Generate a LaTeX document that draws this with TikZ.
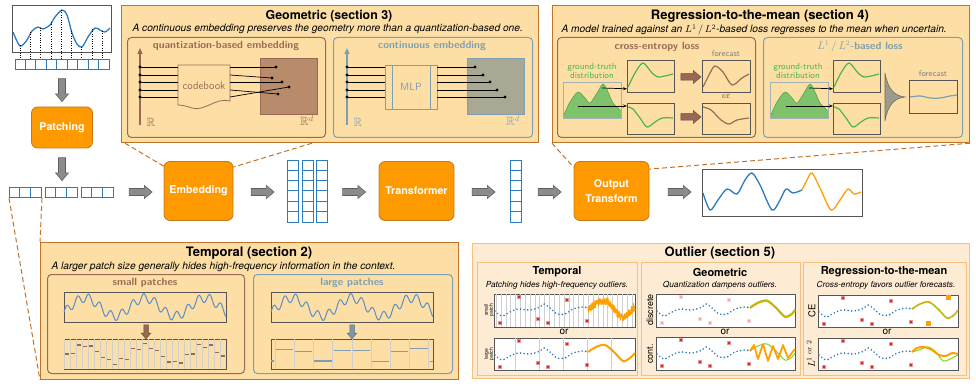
\documentclass[tikz,border=0pt]{standalone}
\usepackage{amsmath}
\usepackage{amssymb}
\usepackage{fontspec}
\usepackage{tikz}
\usetikzlibrary{positioning, arrows.meta, shapes, calc, plotmarks}
\usepackage{xcolor}

\newfontfamily\hel{TeX Gyre Heros}
\newcommand{\fsz}[1]{\fontsize{#1}{#1}\selectfont}

\definecolor{stagefill}{HTML}{FF9900}
\definecolor{stagedraw}{HTML}{C47A18}
\definecolor{sectfill}{HTML}{FDDFA6}
\definecolor{sectdraw}{HTML}{C2732B}
\definecolor{outfill}{HTML}{FEEBD3}
\definecolor{outdraw}{HTML}{F8C07C}
\definecolor{quantcol}{HTML}{9A6955}
\definecolor{contcol}{HTML}{7E9EB1}
\definecolor{quantfill}{HTML}{B88B6B}
\definecolor{contfill}{HTML}{A8A894}
\definecolor{cellblue}{HTML}{2B7BBF}
\definecolor{sigblue}{HTML}{5A8EC6}
\definecolor{linegray}{HTML}{555555}
\definecolor{gridgray}{HTML}{CFCFCF}
\definecolor{garrowfill}{HTML}{8C8C8C}
\definecolor{garrowdraw}{HTML}{5F5F5F}
\definecolor{truegreen}{HTML}{4AB548}
\definecolor{densfill}{HTML}{7FC26C}
\definecolor{densline}{HTML}{58A548}
\definecolor{boxgray}{HTML}{A3B3B3}
\definecolor{crossred}{HTML}{D62728}
\definecolor{palered}{HTML}{F2A8AC}
\definecolor{fcorange}{HTML}{FFA000}
\definecolor{fcgreen}{HTML}{7ED321}
\definecolor{funnelgray}{HTML}{9B9C8B}
\definecolor{fctext}{HTML}{808080}

\newcommand{\outhist}[1]{%
  \draw[histdots] plot[smooth] coordinates {(1,17) (8,22) (16,18) (24,15) (36,16) (46,13) (50,10) (56,14) (63,20) (71,20) (79,15) (89,13) (94,14)};
  \draw[#1, line width=1.3pt] plot[only marks, mark=x, mark size=2pt] coordinates {(6,29) (25,3) (44,25) (54,29) (73,6) (93,27)};
}

\begin{document}
\begin{tikzpicture}[x=1pt, y=-1pt,
  stage/.style={draw=stagedraw, fill=stagefill, line width=0.8pt, rounded corners=6pt, text=white, font=\hel\bfseries\fsz{10.7}, align=center, minimum height=59pt, inner sep=0pt},
  garrow/.style={single arrow, draw=garrowdraw, fill=garrowfill, line width=0.6pt, minimum height=23pt, minimum width=13pt, single arrow head extend=3pt, single arrow tip angle=80, inner sep=3.2pt},
  barrow/.style={single arrow, draw=quantcol!70!black, fill=quantcol, line width=0.5pt, minimum height=20pt, minimum width=12pt, single arrow head extend=3pt, single arrow tip angle=80, inner sep=3pt},
  sdarrow/.style={single arrow, draw=quantcol!70!black, fill=quantcol, line width=0.5pt, minimum height=14pt, minimum width=9pt, single arrow head extend=2.5pt, single arrow tip angle=80, inner sep=2pt, shape border rotate=270},
  cellbox/.style={draw=cellblue, fill=white, line width=1pt, inner sep=0pt, anchor=north west},
  celldiv/.style={draw=cellblue, line width=1pt},
  section/.style={draw=sectdraw, fill=sectfill, line width=1.2pt, inner sep=0pt, anchor=north west, minimum width=417pt, minimum height=137pt},
  outpanel/.style={draw=outdraw, fill=outfill, line width=1.2pt, inner sep=0pt, anchor=north west},
  sectitle/.style={font=\hel\bfseries\fsz{13}},
  sectnote/.style={font=\hel\itshape\fsz{10.2}, anchor=west},
  innerbox/.style={fill=sectfill, line width=1pt, rounded corners=4pt, inner sep=0pt, anchor=north west, minimum height=100pt},
  boxlabel/.style={font=\sffamily\bfseries\fsz{10.5}},
  plotbox/.style={draw=linegray, line width=0.8pt, inner sep=0pt, anchor=north west},
  zoomline/.style={draw=sectdraw, line width=1pt, dash pattern=on 5pt off 3pt},
  wire/.style={draw=black, line width=0.7pt},
  gridline/.style={draw=gridgray, line width=0.4pt},
  histdots/.style={draw=cellblue, line width=1.8pt, line cap=round, dash pattern=on 0pt off 3.6pt},
  paneltitle/.style={font=\hel\bfseries\fsz{11}},
  panelnote/.style={font=\hel\itshape\fsz{8.3}},
  sidelabel/.style={rotate=90, font=\hel\fsz{9}, align=center},
]
\useasboundingbox (0,0) rectangle (976,387);
\pgfmathsetseed{7}

\node[draw=linegray, fill=white, line width=0.8pt, inner sep=0pt, anchor=north west, minimum width=99pt, minimum height=47pt] (series) at (12,5) {};
\draw[cellblue, line width=1.3pt] plot[smooth] coordinates {(13,32) (20,46) (27,40) (32,31) (38,27) (43,29) (50,25) (55,17) (62,10) (67,15) (72,33) (77,44) (82,47) (88,37) (95,28) (100,30) (105,32) (110,28)};
\foreach \x/\y in {20.7/45.5, 30.7/32, 40.7/28, 51.7/22, 61.7/10, 71.7/31, 81.7/47, 92.7/29, 102.7/31}
  \draw[line width=0.8pt, dash pattern=on 0.8pt off 1.6pt] (\x,\y) -- (\x,59);
\node[cellbox, minimum width=94pt, minimum height=10pt] (cells) at (15,59) {};
\foreach \i in {1,...,8}
  \draw[celldiv] ({15+\i*94/9},59) -- ++(0,10);

\node[garrow, shape border rotate=270] (down1) at (62,88) {};
\node[stage, minimum width=61pt, minimum height=41pt] (patching) at (62,127.5) {Patching};
\node[garrow, shape border rotate=270] (down2) at (62,167) {};
\foreach \n/\x in {grp1/9, grp2/45, grp3/81} {
  \node[cellbox, minimum width=32pt, minimum height=10pt] (\n) at (\x,187) {};
  \draw[celldiv] (\x+10.67,187) -- ++(0,10) (\x+21.33,187) -- ++(0,10);
}

\node[garrow] (next1) at (138.5,192) {};
\node[stage, minimum width=69pt] (embedding) at (198.5,191) {Embedding};
\node[garrow] (next2) at (260.5,192) {};
\foreach \n/\x in {col1/287, col2/301.5, col3/316} {
  \node[cellbox, minimum width=11pt, minimum height=62pt] (\n) at (\x,160) {};
  \foreach \j in {1,...,5} \draw[celldiv] (\x,160+\j*10.33) -- ++(11,0);
}
\node[garrow] (next3) at (352,192) {};
\node[stage, minimum width=75pt] (transformer) at (416.5,191) {Transformer};
\node[garrow] (next4) at (481.5,192) {};
\node[cellbox, minimum width=11pt, minimum height=62pt] (col4) at (509.5,160) {};
\foreach \j in {1,...,5} \draw[celldiv] (509.5,160+\j*10.33) -- ++(11,0);
\node[garrow] (next5) at (547.5,192) {};
\node[stage, minimum width=75pt] (outtrans) at (611.5,191) {Output\\[5pt]Transform};
\node[garrow] (next6) at (677.5,192) {};
\node[draw=linegray, fill=white, line width=0.8pt, inner sep=0pt, anchor=north west, minimum width=160pt, minimum height=47pt] (forecast) at (702,169) {};
\draw[cellblue, line width=1.3pt] plot[smooth] coordinates {(703,193) (710,210) (718,200) (727,189) (737,194) (745,180) (752,173) (760,185) (772,210) (780,200) (786,189) (793,193) (802,190)};
\draw[fcorange, line width=1.3pt] plot[smooth] coordinates {(802,190) (807,180) (812,173) (820,188) (831,210) (840,200) (848,189) (854,194) (861,192)};

\node[section] (geometric) at (121,5) {};
\node[sectitle, font=\hel\bfseries\fsz{12.4}] (geotitle) at (329,16) {Geometric (section 3)};
\node[sectnote] (geonote) at (129,29) {A continuous embedding preserves the geometry more than a quantization-based one.};
\node[innerbox, draw=quantcol, minimum width=198pt] (quant) at (127,37) {};
\node[boxlabel, text=quantcol] (quanttitle) at (226,46) {quantization-based embedding};
\draw[quantcol, line width=1.2pt, -{Triangle[length=6pt, width=5pt]}] (140,125) -- (140,48);
\draw[draw=quantcol, fill=quantfill, line width=1pt] (260,59) rectangle (317,115);
\draw[draw=quantcol, fill=sectfill, line width=0.8pt] (178,65) -- (230,65) -- (230,101) .. controls (216,97) and (204,112) .. (192,108) .. controls (186,106) and (182,105) .. (178,105) -- cycle;
\node[font=\sffamily\fsz{11}, text=quantcol] (codebook) at (204,86) {codebook};
\foreach \y in {67,75,82,90,97} {
  \draw[wire] (140,\y) -- (178,\y);
  \fill (140,\y) circle (1.7pt);
}
\foreach \ya/\xd/\yd in {67/276/67, 75/272/78, 82/282/82, 90/278/94, 97/289/87} {
  \draw[wire] (230,\ya) -- (\xd,\yd);
  \fill (\xd,\yd) circle (1.7pt);
}
\node[text=quantcol, font=\fsz{12}] (qreal) at (151,122) {$\mathbb{R}$};
\node[text=quantcol, font=\fsz{12}] (qrealdim) at (307,121) {$\mathbb{R}^d$};

\node[innerbox, draw=contcol, minimum width=199pt] (cont) at (333,37) {};
\node[boxlabel, text=contcol] (conttitle) at (432,46) {continuous embedding};
\draw[contcol, line width=1.2pt, -{Triangle[length=6pt, width=5pt]}] (347,125) -- (347,48);
\draw[draw=contcol, fill=contfill, line width=1pt] (467,59) rectangle (524,115);
\draw[draw=contcol, fill=sectfill, line width=0.8pt] (385,65) rectangle (437,109) (392,65) -- (392,109) (430,65) -- (430,109);
\node[font=\sffamily\fsz{10.5}, text=contcol] (mlp) at (411,87) {MLP};
\foreach \y/\xd in {67/475, 75/483, 82/490, 90/497, 97/505} {
  \draw[wire] (347,\y) -- (385,\y) (437,\y) -- (\xd,\y);
  \fill (347,\y) circle (1.7pt) (\xd,\y) circle (1.7pt);
}
\node[text=contcol, font=\fsz{12}] (creal) at (358,122) {$\mathbb{R}$};
\node[text=contcol, font=\fsz{12}] (crealdim) at (513,121) {$\mathbb{R}^d$};

\node[section] (regression) at (552,5) {};
\node[sectitle] (regtitle) at (760,16) {Regression-to-the-mean (section 4)};
\node[sectnote] (regnote) at (558,30) {A model trained against an $L^1\,/\,L^2$-based loss regresses to the mean when uncertain.};
\node[innerbox, draw=quantcol, minimum width=198pt] (celoss) at (557,37) {};
\node[boxlabel, text=quantcol] (cetitle) at (657,47) {cross-entropy loss};
\node[font=\sffamily\fsz{9}, text=truegreen, align=center] (cetruth) at (592,71) {ground-truth\\distribution};
\begin{scope}[shift={(563,82)}]
  \fill[densfill] (0,36) -- plot[smooth] coordinates {(0,35) (7,20) (15,10) (22,16) (27,21) (34,11) (40,2) (45,10) (50,21) (57,28)} -- (58,28) -- (58,36) -- cycle;
  \draw[densline, line width=0.6pt] plot[smooth] coordinates {(0,35) (7,20) (15,10) (22,16) (27,21) (34,11) (40,2) (45,10) (50,21) (57,28)};
\end{scope}
\node[draw=boxgray, line width=0.8pt, inner sep=0pt, anchor=north west, minimum width=58pt, minimum height=36pt] (cedist) at (563,82) {};
\node[plotbox, minimum width=47pt, minimum height=32pt] (ceup) at (627,60) {};
\node[plotbox, minimum width=47pt, minimum height=31pt] (celow) at (627,103) {};
\begin{scope}[shift={(627,60)}]
  \draw[truegreen, line width=1.2pt] plot[smooth] coordinates {(1,27) (8,13) (16,3) (25,13) (31,17) (38,16) (46,14)};
\end{scope}
\begin{scope}[shift={(627,103)}]
  \draw[truegreen, line width=1.2pt] plot[smooth] coordinates {(1,4) (6,6) (13,15) (20,24) (28,19) (35,15) (46,15)};
\end{scope}
\draw[wire, -{Stealth[length=4pt]}] (602,88) -- ($(ceup.south west)+(0,-4)$);
\draw[wire, -{Stealth[length=4pt]}] (578,106) -- ($(celow.north west)+(0,3)$);
\node[barrow] (cearrow1) at (689,77) {};
\node[barrow] (cearrow2) at (689,117) {};
\node[plotbox, minimum width=48pt, minimum height=32pt] (cefc1) at (702,60) {};
\node[plotbox, minimum width=48pt, minimum height=31pt] (cefc2) at (702,103) {};
\begin{scope}[shift={(702,60)}]
  \draw[quantcol, line width=1.2pt] plot[smooth] coordinates {(1,27) (8,13) (13,6) (21,12) (30,25) (40,18) (47,14)};
\end{scope}
\begin{scope}[shift={(702,103)}]
  \draw[quantcol, line width=1.2pt] plot[smooth] coordinates {(1,4) (9,7) (19,17) (27,21) (35,17) (47,15)};
\end{scope}
\node[font=\sffamily\fsz{8.5}, text=fctext] (cefclabel) at (726,54) {forecast};
\node[font=\ttfamily\fsz{8.5}, text=quantcol] (ceor) at (726,97) {or};

\node[innerbox, draw=contcol, minimum width=199pt] (l2loss) at (763,37) {};
\node[boxlabel, text=contcol] (l2title) at (860,47) {$L^1\,/\,L^2$-based loss};
\node[font=\sffamily\fsz{9}, text=truegreen, align=center] (l2truth) at (798,71) {ground-truth\\distribution};
\begin{scope}[shift={(770,82)}]
  \fill[densfill] (0,36) -- plot[smooth] coordinates {(0,35) (7,20) (15,10) (22,16) (27,21) (34,11) (40,2) (45,10) (50,21) (57,28)} -- (58,28) -- (58,36) -- cycle;
  \draw[densline, line width=0.6pt] plot[smooth] coordinates {(0,35) (7,20) (15,10) (22,16) (27,21) (34,11) (40,2) (45,10) (50,21) (57,28)};
\end{scope}
\node[draw=boxgray, line width=0.8pt, inner sep=0pt, anchor=north west, minimum width=58pt, minimum height=36pt] (l2dist) at (770,82) {};
\node[plotbox, minimum width=47pt, minimum height=32pt] (l2up) at (833,60) {};
\node[plotbox, minimum width=47pt, minimum height=31pt] (l2low) at (833,103) {};
\begin{scope}[shift={(833,60)}]
  \draw[truegreen, line width=1.2pt] plot[smooth] coordinates {(1,27) (8,13) (16,3) (25,13) (31,17) (38,16) (46,14)};
\end{scope}
\begin{scope}[shift={(833,103)}]
  \draw[truegreen, line width=1.2pt] plot[smooth] coordinates {(1,4) (6,6) (13,15) (20,24) (28,19) (35,15) (46,15)};
\end{scope}
\draw[wire, -{Stealth[length=4pt]}] (809,88) -- ($(l2up.south west)+(0,-4)$);
\draw[wire, -{Stealth[length=4pt]}] (786,106) -- ($(l2low.north west)+(0,3)$);
\draw[fill=funnelgray, draw=funnelgray!70!black, line width=0.6pt] (885,73) .. controls (888,90) and (895,96) .. (905,97) .. controls (895,98) and (888,104) .. (885,121) -- cycle;
\node[plotbox, minimum width=48pt, minimum height=33pt] (l2fc) at (909,80) {};
\draw[contcol, line width=1.2pt] plot[smooth] coordinates {(910,97) (920,96) (930,98) (940,98) (950,96) (957,95)};
\node[font=\sffamily\fsz{8.5}, text=fctext] (l2fclabel) at (933,74) {forecast};

\node[section, minimum width=418pt] (temporal) at (40,242) {};
\node[sectitle] (temptitle) at (249,253) {Temporal (section 2)};
\node[sectnote] (tempnote) at (48,267) {A larger patch size generally hides high-frequency information in the context.};
\node[innerbox, draw=quantcol, minimum width=197pt, minimum height=99pt] (small) at (47,274) {};
\node[boxlabel, text=quantcol] (smalltitle) at (145,283) {small patches};
\node[plotbox, minimum width=162pt, minimum height=30pt] (smallsig) at (64,292) {};
\node[plotbox, minimum width=162pt, minimum height=30pt] (smallpat) at (64,339) {};
\draw[sigblue, line width=1pt] plot[domain=0:162, samples=240] ({64+\x}, {307-9*cos(6*(\x-21))-4.5*sin(32.727*\x)});
\foreach \i in {0,...,26} {
  \pgfmathsetmacro\lev{354-0.98*9*cos(6*(\i*6+3-21))-0.58*4.5*sin(32.727*(\i*6+3))}
  \draw[gridline] ({64+\i*6},339) -- ++(0,30);
  \draw[quantcol, line width=1.3pt] ({64+\i*6+1},\lev) -- ++(4,0);
}
\node[sdarrow] (smalldown) at (146,330.5) {};

\node[innerbox, draw=contcol, minimum width=199pt, minimum height=99pt] (large) at (253,274) {};
\node[boxlabel, text=contcol] (largetitle) at (352,283) {large patches};
\node[plotbox, minimum width=162pt, minimum height=30pt] (largesig) at (271,292) {};
\node[plotbox, minimum width=162pt, minimum height=30pt] (largepat) at (271,339) {};
\draw[sigblue, line width=1pt] plot[domain=0:162, samples=240] ({271+\x}, {307-9*cos(6*(\x-21))-4.5*sin(32.727*\x)});
\begin{scope}
  \clip (271,339) rectangle (433,369);
  \foreach \i in {0,...,9} {
    \pgfmathsetmacro\lev{354-0.84*9*cos(6*(\i*19.2-5.6-21))+0.13*4.5*sin(32.727*(\i*19.2-5.6))}
    \draw[gridline] ({275+\i*19.2},339) -- ++(0,30);
    \draw[contcol, line width=1.3pt] ({256.8+\i*19.2},\lev) -- ++(17.2,0);
  }
\end{scope}
\node[sdarrow, draw=contcol!70!black, fill=contcol!80!gray] (largedown) at (352,330.5) {};

\node[outpanel, minimum width=497pt, minimum height=135pt] (outlier) at (472,243) {};
\node[sectitle] (outtitle) at (720,253) {Outlier (section 5)};

\node[outpanel, minimum width=160pt, minimum height=113pt] (outtemp) at (477,262) {};
\node[paneltitle] (outtemptitle) at (557,272) {Temporal};
\node[panelnote] (outtempnote) at (557,285) {Patching hides high-frequency outliers.};
\begin{scope}[shift={(494,294)}]
  \draw[fill=white, draw=linegray, line width=0.7pt] (0,0) rectangle (141,33);
  \foreach \i in {0,...,28} \draw[gridline] ({2+\i*4.85},0) -- ++(0,33);
  \outhist{crossred}
  \draw[fcorange, line width=0.7pt, line join=round] plot[domain=94:141, samples=260] (\x, {15-8*sin(\x<111 ? 90*(\x-94)/17 : 90+10*(\x-111))+4*rand});
  \draw[fcorange, line width=2pt] plot[smooth] coordinates {(94,14) (102,9) (111,7) (120,14) (129,23) (136,20) (141,15)};
\end{scope}
\node[sidelabel, font=\hel\fsz{5}] (smallside) at (489,310) {small\\patch};
\node[font=\hel\fsz{10}] (outtempor) at (564,332) {or};
\begin{scope}[shift={(494,338)}]
  \draw[fill=white, draw=linegray, line width=0.7pt] (0,0) rectangle (141,32);
  \foreach \i in {0,...,4} \draw[gridline] ({21+\i*24},0) -- ++(0,32);
  \outhist{crossred}
  \draw[fcorange, line width=2pt] plot[smooth] coordinates {(94,14) (102,9) (111,7) (120,14) (129,23) (136,20) (141,15)};
\end{scope}
\node[sidelabel, font=\hel\fsz{5}] (largeside) at (489,354) {large\\patch};

\node[outpanel, minimum width=159pt, minimum height=113pt] (outgeo) at (641,262) {};
\node[paneltitle] (outgeotitle) at (720,272) {Geometric};
\node[panelnote] (outgeonote) at (720,285) {Quantization dampens outliers.};
\begin{scope}[shift={(656,294)}]
  \draw[fill=white, draw=linegray, line width=0.7pt] (0,0) rectangle (139,33);
  \outhist{palered}
  \draw[fcorange, line width=2pt] plot[smooth] coordinates {(94,14) (102,9) (111,7) (120,14) (129,23) (136,20) (139,16)};
  \draw[fcgreen, line width=0.9pt] plot[smooth] coordinates {(94,13) (102,8) (111,6) (120,13) (129,22) (136,19) (139,15)};
\end{scope}
\node[sidelabel] (discside) at (650,310) {discrete};
\node[font=\hel\fsz{10}] (outgeoor) at (725,332) {or};
\begin{scope}[shift={(656,337)}]
  \draw[fill=white, draw=linegray, line width=0.7pt] (0,0) rectangle (139,33);
  \outhist{crossred}
  \draw[fcgreen, line width=1pt] plot[smooth] coordinates {(94,14) (102,9) (111,7) (120,14) (129,23) (136,20) (139,16)};
  \draw[fcorange, line width=1.8pt, line join=round] (94,14) -- (98,8) -- (102,22) -- (107,7) -- (112,24) -- (117,9) -- (122,22) -- (127,8) -- (132,21) -- (139,12);
\end{scope}
\node[sidelabel] (contside) at (650,354) {cont.};

\node[outpanel, minimum width=163pt, minimum height=113pt] (outreg) at (803,262) {};
\node[paneltitle] (outregtitle) at (884,272) {Regression-to-the-mean};
\node[panelnote] (outregnote) at (886,285) {Cross-entropy favors outlier forecasts.};
\begin{scope}[shift={(818,295)}]
  \draw[fill=white, draw=linegray, line width=0.7pt] (0,0) rectangle (140,32);
  \outhist{crossred}
  \draw[fcgreen, line width=1.5pt] plot[smooth] coordinates {(94,14) (102,9) (111,7) (120,14) (129,23) (136,20) (140,15)};
  \draw[fcorange, line width=1.5pt, dash pattern=on 3pt off 3pt] plot[smooth] coordinates {(94,14) (102,9) (111,7) (120,14) (129,23) (136,20) (140,15)};
  \draw plot[only marks, mark=square*, mark size=1.8pt, mark options={draw=fcorange, fill=fcorange}] coordinates {(130,2) (110,28)};
\end{scope}
\node[sidelabel, font=\hel\fsz{9.5}] (ceside) at (812,311) {CE};
\node[font=\hel\fsz{10}] (outregor) at (887,332) {or};
\begin{scope}[shift={(818,338)}]
  \draw[fill=white, draw=linegray, line width=0.7pt] (0,0) rectangle (140,32);
  \outhist{crossred}
  \draw[fcgreen, line width=1pt] plot[smooth] coordinates {(94,14) (101,12) (110,9) (118,14) (125,23) (132,21) (140,17)};
  \draw[fcorange, line width=2pt] plot[smooth] coordinates {(94,14) (99,10) (106,9) (114,12) (121,17) (128,18) (134,15) (140,16)};
\end{scope}
\node[sidelabel, font=\fsz{10}] (lside) at (811,354) {$L^{1\text{ or }2}$};

\draw[zoomline] ($(geometric.south west)+(4,0)$) -- ($(embedding.north west)+(0,5)$);
\draw[zoomline] ($(geometric.south west)+(191,0)$) -- ($(embedding.north east)+(0,6)$);
\draw[zoomline] (regression.south west) -- ($(outtrans.north west)+(0,6)$);
\draw[zoomline] (regression.south east) -- ($(outtrans.north east)+(0,8)$);
\draw[zoomline] (grp1.south west) -- (temporal.south west);
\draw[zoomline] (grp1.south east) -- (temporal.north west);
\end{tikzpicture}
\end{document}
